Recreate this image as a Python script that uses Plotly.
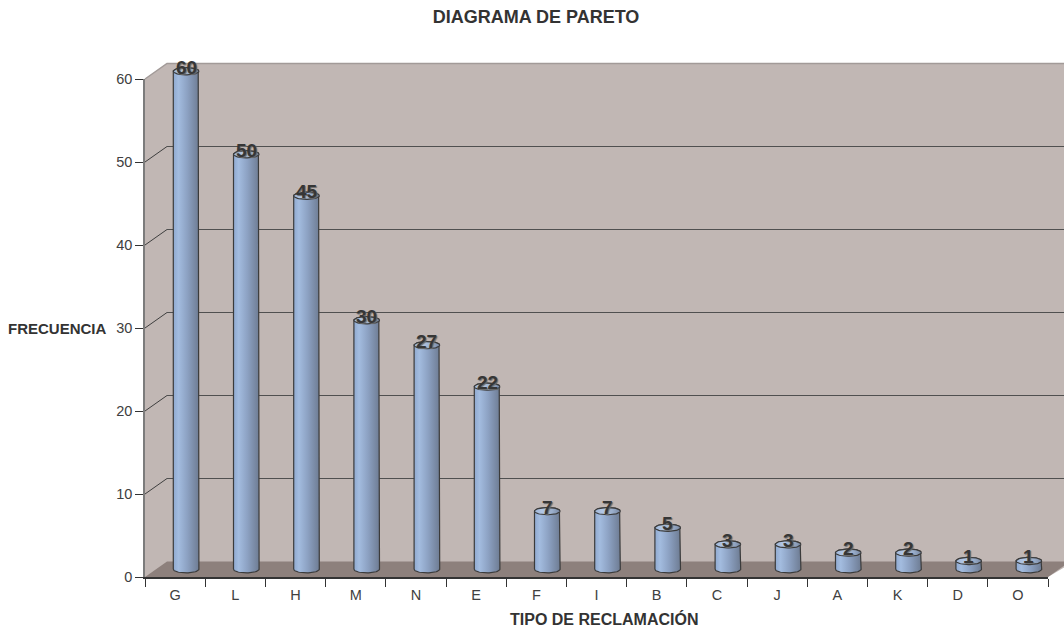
import numpy as np
import plotly.graph_objects as go

# ---------------- data ----------------
categorias = ['G', 'L', 'H', 'M', 'N', 'E', 'F', 'I', 'B', 'C', 'J', 'A', 'K', 'D', 'O']
frecuencia = [60, 50, 45, 30, 27, 22, 7, 7, 5, 3, 3, 2, 2, 1, 1]
y_ticks = [0, 10, 20, 30, 40, 50, 60]
titulo = 'DIAGRAMA DE PARETO'
titulo_x = 'TIPO DE RECLAMACIÓN'
titulo_y = 'FRECUENCIA'

# ---------------- geometry (pixels) ----------------
W, H = 1064, 627
ML, MR, MT, MB = 145, 0, 63, 50
PW, PH = W - ML - MR, H - MT - MB
SLOT = 60.2                    # px per category
AX_W = SLOT * len(categorias)  # front axis length
Y_MAX = 60
Y_SPAN = 498                   # px for 0..Y_MAX
PPU = Y_SPAN / Y_MAX           # px per unit
DX, DY = 22, 15.5              # 3-D depth offset
BOTTOM = H - MB                # y pixel of front zero

FONT = 'Liberation Sans, Arial, Helvetica, sans-serif'
WALL = '#c1b7b4'
FLOOR = '#8d807c'


def fx(px):
    return (px - ML) / PW


def fy(py):
    return (BOTTOM - py) / PH


fig = go.Figure()

# front axes (ticks / labels)
fig.add_trace(go.Scatter(x=categorias, y=frecuencia, mode='none', xaxis='x', yaxis='y',
                         hoverinfo='skip', showlegend=False))
# back wall axes (grid)
fig.add_trace(go.Scatter(x=[], y=[], mode='none', xaxis='x2', yaxis='y2', showlegend=False))

# mid-depth axes: cylinders
a = (25.6 / 2) / SLOT
ry = 3.6 / PPU
body_scale = [[0, '#8fa9d0'], [0.2, '#a3bcdf'], [0.55, '#8ca1c2'], [1, '#6e7c93']]
top_scale = [[0, '#9fb6d8'], [0.3, '#b3c7e4'], [0.7, '#9aaecb'], [1, '#7786a0']]
th_f = np.linspace(np.pi, 2 * np.pi, 30)
th_b = np.linspace(0, np.pi, 30)
th_all = np.linspace(0, 2 * np.pi, 60)
for i, v in enumerate(frecuencia):
    xs = np.concatenate([i + a * np.cos(th_f), i + a * np.cos(th_b), [i - a]])
    ys = np.concatenate([ry * np.sin(th_f), v + ry * np.sin(th_b), [0]])
    fig.add_trace(go.Scatter(x=xs, y=ys, xaxis='x3', yaxis='y3', mode='lines', fill='toself',
                             fillgradient=dict(type='horizontal', colorscale=body_scale),
                             line=dict(color='#3b3b3b', width=1.2), hoverinfo='skip',
                             showlegend=False))
    fig.add_trace(go.Scatter(x=i + a * np.cos(th_all), y=v + ry * np.sin(th_all),
                             xaxis='x3', yaxis='y3', mode='lines', fill='toself',
                             fillgradient=dict(type='horizontal', colorscale=top_scale),
                             line=dict(color='#3b3b3b', width=1.2), hoverinfo='skip',
                             showlegend=False))

annotations = []
for i, v in enumerate(frecuencia):
    annotations.append(dict(x=i, y=v, xref='x3', yref='y3', text=f'<b>{v}</b>', showarrow=False,
                            yshift=4, font=dict(family=FONT, size=19, color='#363636',
                                                shadow='1px 1px 1px #6a6a6a')))

annotations.append(dict(x=fx(604), y=fy(619), xref='paper', yref='paper', text=f'<b>{titulo_x}</b>',
                        showarrow=False, xanchor='center', yanchor='middle',
                        font=dict(family=FONT, size=16, color='#333333')))
annotations.append(dict(x=fx(109), y=fy(328), xref='paper', yref='paper', text=f'<b>{titulo_y}</b>',
                        showarrow=False, xanchor='right', yanchor='middle',
                        font=dict(family=FONT, size=15, color='#333333')))

# ---------------- decorative 3-D frame ----------------
def path(pts):
    return 'M ' + ' L '.join(f'{fx(px):.5f},{fy(py):.5f}' for px, py in pts) + ' Z'


top_front = BOTTOM - Y_SPAN
shapes = [
    dict(type='path', xref='paper', yref='paper', layer='below', line=dict(width=0), fillcolor=WALL,
         path=path([(ML, BOTTOM), (ML, top_front), (ML + DX, top_front - DY), (W + 10, top_front - DY),
                    (W + 10, BOTTOM - DY), (ML + AX_W, BOTTOM)])),
    dict(type='path', xref='paper', yref='paper', layer='below', line=dict(width=0), fillcolor=FLOOR,
         path=path([(ML, BOTTOM), (ML + DX, BOTTOM - DY), (ML + AX_W + DX, BOTTOM - DY),
                    (ML + AX_W, BOTTOM)])),
    dict(type='path', xref='paper', yref='paper', layer='below', line=dict(color='#a29a98', width=1.5),
         path=f'M {fx(ML):.5f},{fy(top_front):.5f} L {fx(ML + DX):.5f},{fy(top_front - DY):.5f} '
              f'L {fx(W + 10):.5f},{fy(top_front - DY):.5f}'),
]
for t in y_ticks[1:-1]:
    yp = BOTTOM - t * PPU
    shapes.append(dict(type='line', xref='paper', yref='paper', layer='below',
                       x0=fx(ML), y0=fy(yp), x1=fx(ML + DX), y1=fy(yp - DY),
                       line=dict(color='#3f3f3f', width=1)))

# ---------------- layout ----------------
mid_lo, mid_hi = -0.9, 60.9
mid_zero = BOTTOM - DY / 2

fig.update_layout(
    width=W, height=H,
    margin=dict(l=ML, r=MR, t=MT, b=MB),
    paper_bgcolor='white', plot_bgcolor='rgba(0,0,0,0)',
    showlegend=False,
    title=dict(text=f'<b>{titulo}</b>', x=536 / W, xref='container', xanchor='center',
               y=1 - 17 / H, yref='container', yanchor='middle',
               font=dict(family=FONT, size=18, color='#333333')),
    font=dict(family=FONT),
    xaxis=dict(type='category', domain=[0, AX_W / PW], range=[-0.5, len(categorias) - 0.5],
               anchor='y', tickson='boundaries', ticks='outside', ticklen=8, tickcolor='#333333',
               ticklabelstandoff=4,
               showline=True, linecolor='#333333', linewidth=1.5, showgrid=False, zeroline=False,
               tickfont=dict(family=FONT, size=14.5, color='#404040')),
    yaxis=dict(domain=[0, Y_SPAN / PH], range=[0, Y_MAX], anchor='x', tickvals=y_ticks,
               ticks='outside', ticklen=8, tickcolor='#333333', showline=True, linecolor='#7c7c7c',
               linewidth=1.5, showgrid=False, zeroline=False,
               tickfont=dict(family=FONT, size=14.5, color='#404040')),
    xaxis2=dict(domain=[DX / PW, 1], range=[-0.5, -0.5 + (PW - DX) / SLOT], anchor='y2',
                showgrid=False, showticklabels=False, showline=False, zeroline=False, ticks=''),
    yaxis2=dict(domain=[DY / PH, (DY + Y_SPAN) / PH], range=[0, Y_MAX], anchor='x2',
                tickvals=y_ticks[1:-1], showgrid=True, gridcolor='#505050', gridwidth=1,
                showticklabels=False, showline=False, zeroline=False, ticks=''),
    xaxis3=dict(domain=[(DX / 2) / PW, (DX / 2 + AX_W) / PW], range=[-0.5, len(categorias) - 0.5],
                anchor='y3', visible=False),
    yaxis3=dict(domain=[fy(mid_zero - mid_lo * PPU), fy(mid_zero - mid_hi * PPU)],
                range=[mid_lo, mid_hi], anchor='x3', visible=False),
    shapes=shapes,
    annotations=annotations,
)

fig.write_html('out.html')
